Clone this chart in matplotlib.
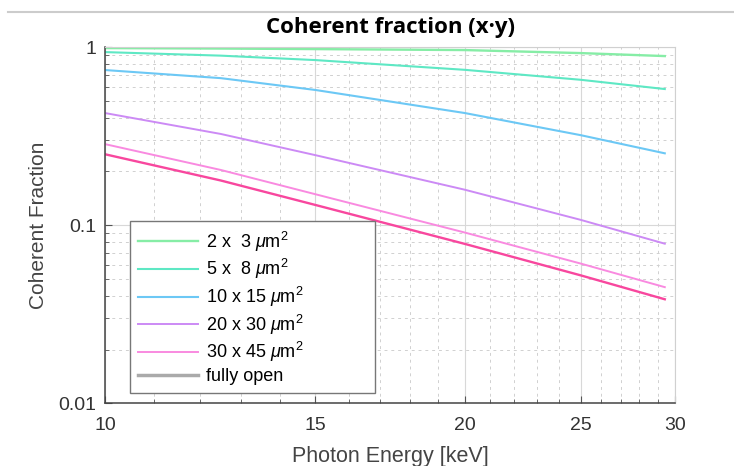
import numpy as np
import matplotlib
matplotlib.use("Agg")
import matplotlib.pyplot as plt
from matplotlib.lines import Line2D
from matplotlib.ticker import FixedLocator, NullFormatter, LogLocator

plt.rcParams.update({
    "font.family": "Liberation Sans",
    "mathtext.fontset": "custom",
    "mathtext.rm": "Liberation Sans",
    "mathtext.it": "Liberation Sans:italic",
    "xtick.direction": "in",
    "ytick.direction": "in",
})

# photon energy [keV]
energy = [10, 12.5, 15, 20, 25, 29.4]

# coherent fraction per beam size
cf_2x3 = [0.987, 0.981, 0.974, 0.962, 0.925, 0.890]
cf_5x8 = [0.937, 0.895, 0.845, 0.745, 0.655, 0.581]
cf_10x15 = [0.743, 0.669, 0.574, 0.426, 0.320, 0.253]
cf_20x30 = [0.426, 0.325, 0.247, 0.158, 0.107, 0.0786]
cf_30x45 = [0.285, 0.204, 0.149, 0.0908, 0.0608, 0.0448]
cf_open = [0.250, 0.178, 0.1297, 0.0784, 0.0522, 0.0383]

labels = [r"2 x  3 $\mu$m$^2$", r"5 x  8 $\mu$m$^2$", r"10 x 15 $\mu$m$^2$",
          r"20 x 30 $\mu$m$^2$", r"30 x 45 $\mu$m$^2$", "fully open"]
colors = ["#86eda6", "#5ee8c4", "#6cc8f5", "#cc8af5", "#f98ae0", "#f8479e"]

fig = plt.figure(figsize=(7.34, 4.66), dpi=100)
ax = fig.add_axes([0.143, 0.135, 0.777, 0.764])

series = [cf_2x3, cf_5x8, cf_10x15, cf_20x30, cf_30x45, cf_open]
widths = [1.7, 1.5, 1.5, 1.4, 1.4, 1.7]
handles = []
for vals, c, lw in zip(series, colors, widths):
    h, = ax.plot(energy, vals, color=c, lw=lw)
    handles.append(h)

ax.set_xscale("log")
ax.set_yscale("log")
ax.set_xlim(10, 30)
ax.set_ylim(0.01, 1)

ax.xaxis.set_major_locator(FixedLocator([10, 15, 20, 25, 30]))
ax.xaxis.set_minor_locator(FixedLocator([11, 12, 13, 14, 16, 17, 18, 19, 21, 22,
                                         23, 24, 26, 27, 28, 29]))
ax.set_xticklabels(["10", "15", "20", "25", "30"])
ax.xaxis.set_minor_formatter(NullFormatter())
ax.yaxis.set_major_locator(FixedLocator([0.01, 0.1, 1]))
ax.set_yticklabels(["0.01", "0.1", "1"])
ax.yaxis.set_minor_locator(LogLocator(base=10, subs=np.arange(2, 10)))
ax.yaxis.set_minor_formatter(NullFormatter())

ax.grid(which="major", color="#d8d8d8", lw=0.8, ls="-")
ax.grid(which="minor", color="#d0d0d0", lw=0.7, ls=(0, (3, 4)))
ax.set_axisbelow(True)

for s in ["top", "right"]:
    ax.spines[s].set_color("#d0d0d0")
for s in ["left", "bottom"]:
    ax.spines[s].set_color("#444444")
    ax.spines[s].set_linewidth(1.1)
ax.tick_params(which="both", top=False, right=False, colors="#555555",
               labelcolor="#333333", labelsize=14)
ax.tick_params(which="major", length=5)
ax.tick_params(which="minor", length=3)
ax.tick_params(axis="x", pad=10)
ax.tick_params(axis="y", pad=6)

ax.set_xlabel("Photon Energy [keV]", fontsize=15.5, color="#444444", labelpad=9)
ax.set_ylabel("Coherent Fraction", fontsize=15, color="#444444", labelpad=8)
ax.set_title("Coherent fraction (x\u00b7y)", fontsize=16, fontweight="bold",
             family="Open Sans", pad=10)

# legend: "fully open" shown in grey as in the original
leg_handles = handles[:5] + [Line2D([], [], color="#aaaaaa", lw=2.5)]
leg = ax.legend(leg_handles, labels, loc="lower left",
                bbox_to_anchor=(0.044, 0.028, 0.43, 0.47), mode="expand",
                fontsize=13, frameon=True, fancybox=False, handlelength=3.3,
                labelspacing=0.2, borderpad=0.45, handletextpad=0.45,
                borderaxespad=0)
leg.get_frame().set_edgecolor("#777777")
leg.get_frame().set_linewidth(1.0)
leg.get_frame().set_alpha(1)

# thin separator line across the top of the figure
fig.add_artist(Line2D([0.011, 1.0], [0.974, 0.974], color="#cccccc", lw=1.5))

fig.savefig("out.png", dpi=100)
